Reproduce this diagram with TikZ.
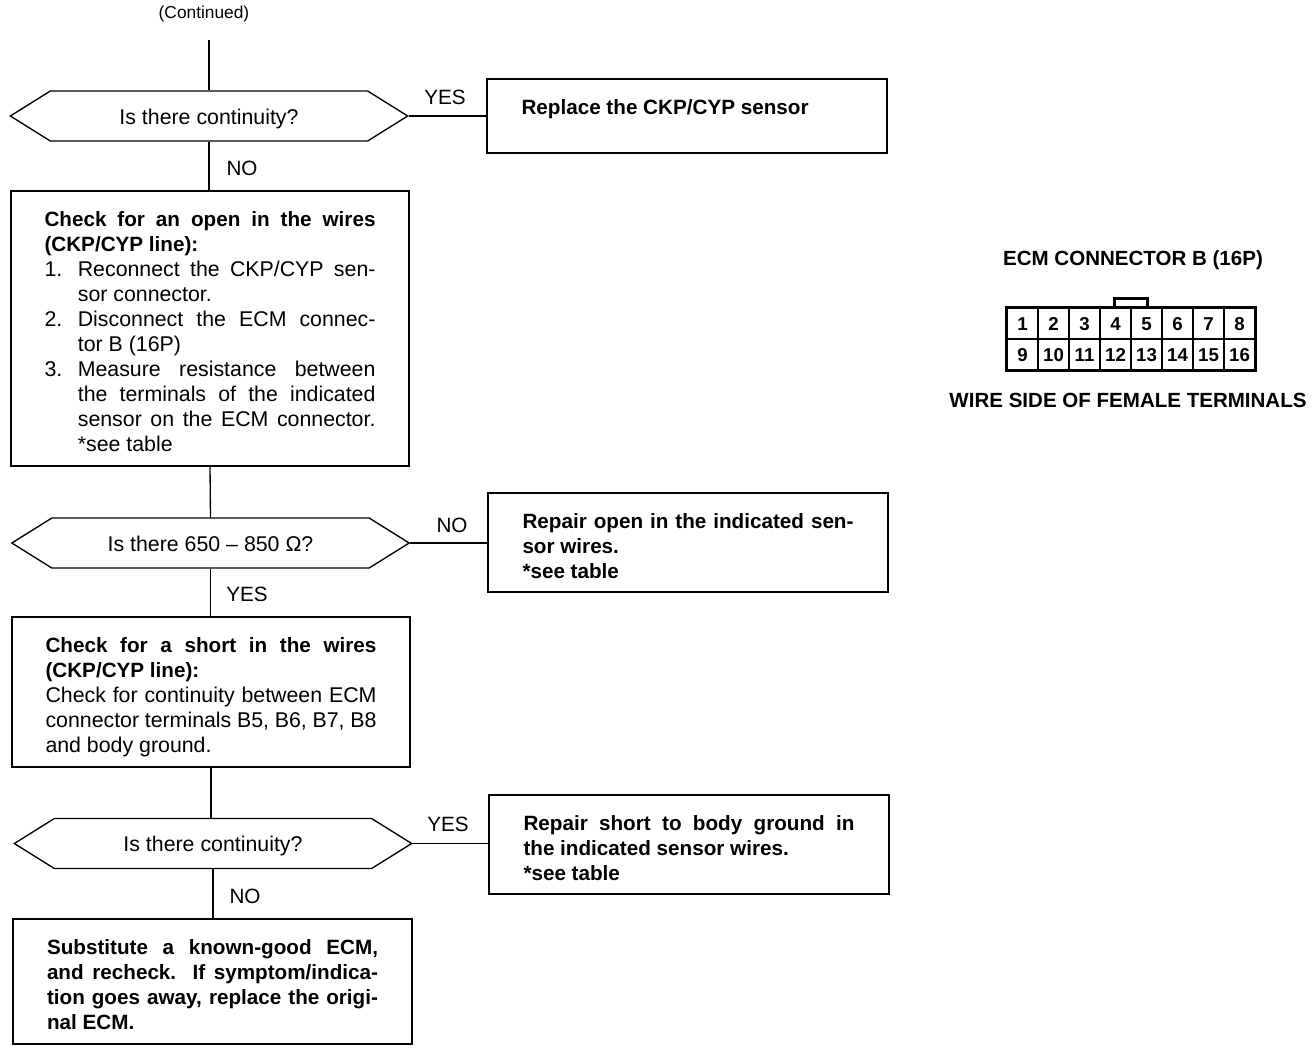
\documentclass[tikz,border=0pt]{standalone}
\usepackage{fontspec}
\setmainfont{Liberation Sans}
\usetikzlibrary{shapes.symbols}
\newcommand{\numitem}[2]{{\hangindent=25pt\hangafter=1\noindent\makebox[25pt][l]{#1}#2\par}}
\tikzset{
  base/.style={font=\fontsize{15.5}{18.75}\selectfont},
  plain/.style={font=\fontsize{16}{18.75}\selectfont},
  box/.style={font=\fontsize{15.5}{18.75}\selectfont,draw,line width=1pt,rectangle,inner sep=0pt,text width=248.25pt,align=justify,minimum width=#1,execute at begin node={\rule{0pt}{16pt}}},
  hex/.style={plain,draw,line width=1pt,signal,signal to=east and west,signal pointer angle=64,inner sep=0pt,minimum height=37.5pt,minimum width=298pt,text height=12pt,text depth=0pt},
  lab/.style={base,inner sep=0pt},
  link/.style={line width=1pt},
  head/.style={font=\fontsize{15.4}{18}\selectfont\bfseries,inner sep=0pt},
  cell/.style={draw,line width=1pt,rectangle,minimum width=23.1pt,minimum height=23.25pt,inner sep=0pt,text height=10pt,text depth=0pt,font=\fontsize{14}{16}\selectfont\bfseries}
}
\begin{document}
\begin{tikzpicture}[x=0.75pt,y=-0.75pt]
\useasboundingbox (0,0) rectangle (1312,1050);
\tolerance=9999
% flow column
\node[lab,font=\fontsize{13}{15}\selectfont] (cont) at (204,14) {(Continued)};
\coordinate (start) at (209,40);
\node[hex] (h1) at (209,116) {Is there continuity?};
\node[box=298.5pt,minimum height=206.25pt] (b1) at (210,328.5) {\bfseries Check for an open in the wires\linebreak (CKP/CYP line):\par\mdseries\fontsize{16}{18.75}\selectfont
\numitem{1.}{Reconnect the CKP/CYP sen-\linebreak sor connector.}
\numitem{2.}{Disconnect the ECM connec-\linebreak tor B (16P)}
\numitem{3.}{Measure resistance between\linebreak the terminals of the indicated\linebreak sensor on the ECM connector.\linebreak *see table}};
\node[hex] (h2) at (210.5,543) {Is there 650 -- 850 Ω?};
\node[box=298.5pt,minimum height=112.5pt] (b3) at (211,692) {\rule{0pt}{19pt}\bfseries Check for a short in the wires\linebreak (CKP/CYP line):\par\mdseries\fontsize{16}{18.75}\selectfont
Check for continuity between ECM\linebreak connector terminals B5, B6, B7, B8\linebreak and body ground.};
\node[hex] (h3) at (213,843.5) {Is there continuity?};
\node[box=299.25pt,minimum height=93.75pt] (b5) at (212.5,981.5) {\bfseries Substitute a known-good ECM,\linebreak and recheck. If symptom/indica-\linebreak tion goes away, replace the origi-\linebreak nal ECM.};
% right boxes
\node[box=300pt,minimum height=55.5pt] (r1) at (687,116) {\bfseries Replace the CKP/CYP sensor\par\mbox{}};
\node[box=300pt,minimum height=74.25pt] (r2) at (688,542.5) {\bfseries Repair open in the indicated sen-\linebreak sor wires.\par *see table};
\node[box=300pt,minimum height=74.25pt] (r3) at (689,844.5) {\bfseries Repair short to body ground in\linebreak the indicated sensor wires.\par *see table};
% connectors
\draw[link] (start) -- (h1.north -| start);
\draw[link] (h1.south -| start) -- (b1.north -| start);
\draw[link] (b1.south) -- (h2.north);
\draw[link] (h2.south) -- (b3.north -| h2.south);
\draw[line width=1.5pt] (b3.south) -- (h3.north -| b3.south);
\draw[link] (h3.south) -- (b5.north -| h3.south);
\draw[link] (h1.east) -- (r1.west);
\draw[link] (h2.east) -- (r2.west |- h2.east);
\draw[link] (h3.east) -- (r3.west |- h3.east);
% branch labels
\node[lab] (y1) at (445,97) {YES};
\node[lab] (n1) at (242,168) {NO};
\node[lab] (n2) at (452,525) {NO};
\node[lab] (y2) at (247,594) {YES};
\node[lab] (y3) at (448,824) {YES};
\node[lab] (n3) at (245,896) {NO};
% connector diagram
\node[head] (t1) at (1133,260) {ECM CONNECTOR B (16P)};
\node[head] (t2) at (1128,400) {WIRE SIDE OF FEMALE TERMINALS};
\foreach \i in {1,...,8}{
  \pgfmathsetmacro{\cx}{1007+31*(\i-1)+15.5}
  \pgfmathtruncatemacro{\lo}{\i+8}
  \node[cell] (c\i) at (\cx,323.5) {\i};
  \node[cell] (c\lo) at (\cx,354.5) {\lo};
}
\draw[line width=2.4pt] (c1.north west) rectangle (c16.south east);
\draw[line width=2.4pt] (c4.north east) ++(-17,0) -- ++(0,-9) -- ++(33,0) -- ++(0,9);
\end{tikzpicture}
\end{document}
